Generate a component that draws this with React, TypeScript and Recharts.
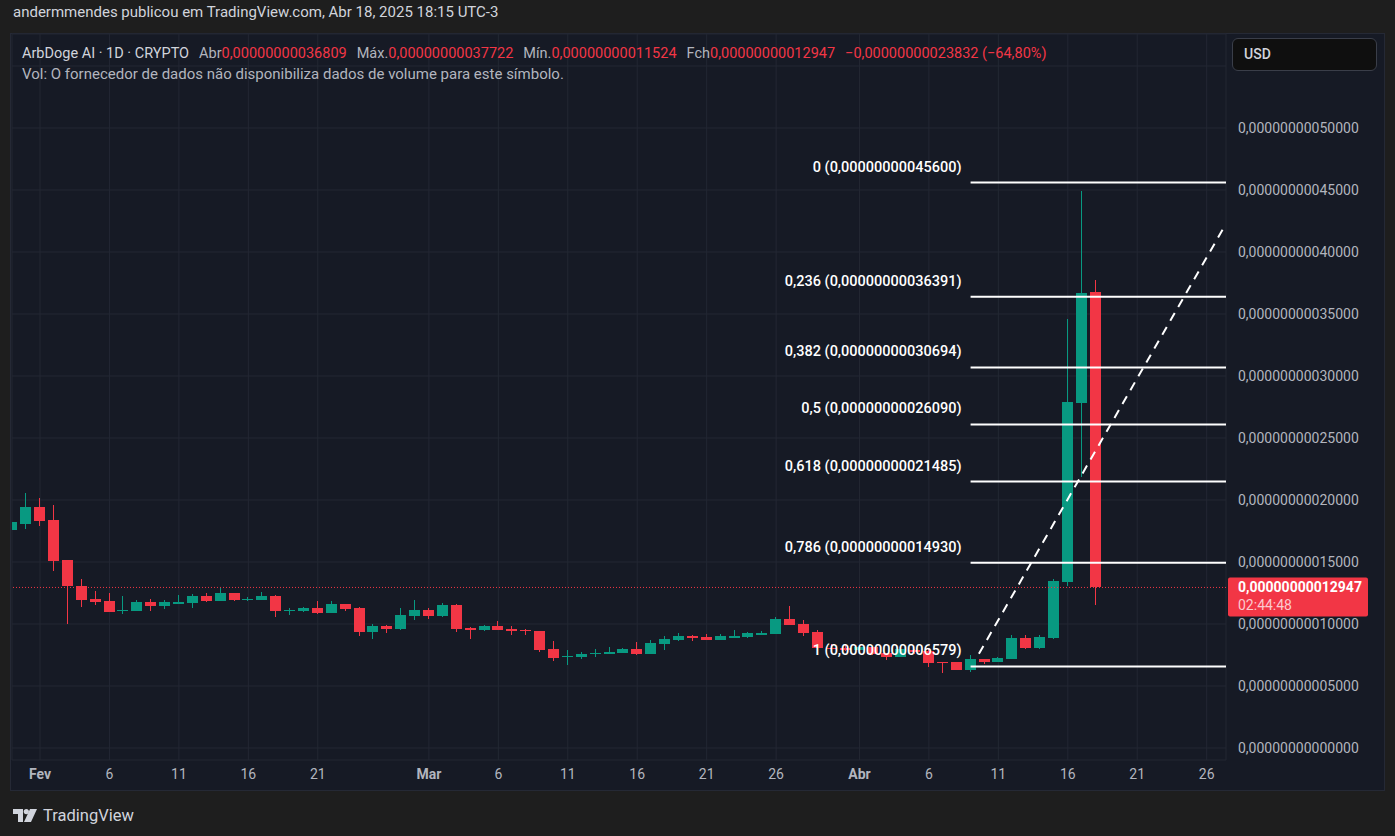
import React from 'react';
import { ComposedChart, Bar, XAxis, YAxis, CartesianGrid, ReferenceLine } from 'recharts';

// prices are in units of 1e-11 USD, days counted from Feb 1 (day 0)
const DAYS = [
  -2, -1, 0, 1, 2, 3, 4, 5, 6, 7, 8, 9, 10, 11, 12, 13, 14, 15, 16, 17, 18, 19,
  20, 21, 22, 23, 24, 25, 26, 27, 28, 29, 30, 31, 32, 33, 34, 35, 36, 37, 38, 39,
  40, 41, 42, 43, 44, 45, 46, 47, 48, 49, 50, 51, 52, 53, 54, 55, 56, 57, 58, 59,
  60, 61, 62, 63, 64, 65, 66, 67, 68, 69, 70, 71, 72, 73, 74, 75, 76,
];
const OPEN = [
  17.6, 18.1, 19.4, 18.4, 15.2, 13.1, 12.0, 11.85, 11.07, 11.07, 11.77, 11.45, 11.69, 11.69, 12.26, 11.85, 12.5, 11.96, 11.94, 12.26, 11.05, 11.07,
  11.29, 10.91, 11.61, 11.29, 9.38, 9.84, 9.6, 10.65, 11.13, 10.65, 11.53, 9.68, 9.52, 9.84, 9.6, 9.52, 9.44, 7.98, 7.4, 7.36,
  7.64, 7.6, 7.69, 7.98, 7.6, 8.41, 8.71, 9.03, 8.95, 8.71, 9.0, 8.95, 9.2, 9.22, 10.4, 10.0, 9.35, 8.09, 8.06, 7.9,
  8.17, 7.69, 7.36, 7.93, 7.8, 6.96, 6.96, 6.31, 7.2, 6.96, 7.2, 8.87, 8.09, 8.87, 13.39, 27.82, 36.809,
];
const HIGH = [
  18.3, 20.6, 20.2, 19.6, 15.2, 13.6, 12.7, 12.5, 12.26, 11.94, 12.0, 11.94, 12.34, 12.42, 12.5, 12.9, 12.5, 12.18, 12.58, 12.34, 11.29, 11.4,
  11.85, 11.85, 11.61, 11.37, 10.0, 9.92, 11.31, 11.94, 11.29, 11.69, 11.61, 9.76, 9.92, 10.24, 9.84, 9.6, 9.44, 8.63, 7.9, 7.74,
  7.98, 8.15, 8.06, 8.55, 8.71, 9.03, 9.27, 9.11, 9.19, 9.19, 9.52, 9.35, 9.44, 10.56, 11.45, 10.32, 9.52, 8.39, 8.3, 8.2,
  8.2, 7.69, 7.98, 8.0, 8.0, 6.96, 6.96, 7.5, 7.2, 7.3, 9.11, 9.11, 9.11, 13.63, 34.6, 44.9, 37.722,
];
const LOW = [
  17.5, 17.7, 17.9, 14.3, 10.0, 11.4, 11.5, 11.0, 10.8, 11.07, 11.07, 11.2, 11.69, 11.29, 11.77, 11.85, 11.85, 11.85, 11.94, 10.56, 10.73, 10.99,
  10.83, 10.91, 11.07, 9.06, 8.79, 9.27, 9.52, 10.32, 10.4, 10.56, 9.35, 8.79, 9.44, 9.52, 9.11, 9.11, 7.74, 7.02, 6.69, 7.18,
  7.34, 7.6, 7.69, 7.5, 7.6, 7.9, 8.63, 8.63, 8.71, 8.71, 8.87, 8.87, 9.11, 9.22, 9.95, 9.06, 8.0, 7.9, 7.8, 7.85,
  7.5, 7.12, 7.36, 7.6, 6.56, 6.07, 6.31, 6.15, 6.8, 6.96, 7.2, 8.0, 8.0, 8.79, 13.06, 21.85, 11.524,
];
const CLOSE = [
  18.2, 19.4, 18.3, 15.1, 13.1, 11.9, 11.8, 11.0, 11.15, 11.77, 11.45, 11.77, 11.77, 12.26, 11.85, 12.5, 11.94, 12.02, 12.26, 11.05, 11.13, 11.29,
  10.89, 11.61, 11.23, 9.38, 9.84, 9.6, 10.73, 11.13, 10.65, 11.53, 9.6, 9.52, 9.84, 9.52, 9.44, 9.44, 7.9, 7.26, 7.45, 7.58,
  7.68, 7.77, 7.98, 7.6, 8.47, 8.79, 9.03, 8.87, 8.71, 9.03, 9.03, 9.27, 9.27, 10.4, 9.95, 9.3, 8.09, 8.0, 7.98, 8.17,
  7.6, 7.36, 7.98, 7.72, 6.88, 6.88, 6.31, 7.18, 6.96, 7.26, 8.87, 8.09, 8.95, 13.47, 27.9, 36.69, 12.947,
];

const X_TICKS = [0, 5, 10, 15, 20, 28, 33, 38, 43, 48, 53, 59, 64, 69, 74, 79, 84];
const X_LABELS = ['Fev', '6', '11', '16', '21', 'Mar', '6', '11', '16', '21', '26', 'Abr', '6', '11', '16', '21', '26'];
const MONTHS = ['Fev', 'Mar', 'Abr'];
const Y_TICKS = [0, 5, 10, 15, 20, 25, 30, 35, 40, 45, 50, 55];

const FIB_RATIOS = ['0', '0,236', '0,382', '0,5', '0,618', '0,786', '1'];
const FIB_LEVELS = [45.6, 36.391, 30.694, 26.09, 21.485, 14.93, 6.579];
const FIB_START_DAY = 67;

const TREND_DAYS = [67.6, 85.3];
const TREND_VALUES = [7.6, 42.1];

const LAST_PRICE = 12.947;
const COUNTDOWN = '02:44:48';

const X_DOMAIN: [number, number] = [-2.016, 85.39];
const Y_DOMAIN: [number, number] = [-0.968, 57.58];

const GREEN = '#089981';
const RED = '#f23645';
const GRID = '#232733';
const TEXT = '#b2b5be';
const FONT = "Roboto, 'Noto Sans', sans-serif";

const fmt = (v: number) => (v / 1e11).toFixed(14).replace('.', ',');

const data = DAYS.map((d, i) => ({
  day: d,
  range: [LOW[i], HIGH[i]],
  o: OPEN[i],
  h: HIGH[i],
  l: LOW[i],
  c: CLOSE[i],
}));

const Candle = (props: any) => {
  const { x, y, width, height, payload } = props;
  if (x == null || !payload) return null;
  const { o, h, l, c } = payload;
  const top = Math.min(y, y + height);
  const span = Math.abs(height);
  const py = (v: number) => (h === l ? top : top + ((h - v) / (h - l)) * span);
  const color = c >= o ? GREEN : RED;
  const bTop = py(Math.max(o, c));
  const bBot = py(Math.min(o, c));
  const left = Math.round(x);
  const cx = left + 5.5;
  return (
    <g shapeRendering="crispEdges">
      <line x1={cx} x2={cx} y1={top} y2={top + span} stroke={color} strokeWidth={1} />
      <rect x={left} y={bTop} width={11} height={Math.max(1.5, bBot - bTop)} fill={color} />
    </g>
  );
};

const XTick = (props: any) => {
  const { x, y, payload } = props;
  const idx = X_TICKS.indexOf(payload.value);
  const label = X_LABELS[idx] ?? '';
  return (
    <text x={x} y={y + 19} textAnchor="middle" fill={TEXT} fontSize={14} fontFamily={FONT}
      fontWeight={MONTHS.includes(label) ? 700 : 400}>
      {label}
    </text>
  );
};

const YTick = (props: any) => {
  const { x, y, payload } = props;
  if (payload.value > 50) return null;
  return (
    <text x={x} y={y + 5} textAnchor="start" fill={TEXT} fontSize={14} fontFamily={FONT}>
      {fmt(payload.value)}
    </text>
  );
};

const FibLabel = (props: any) => {
  const { viewBox, caption } = props;
  if (!viewBox) return null;
  return (
    <text x={viewBox.x - 9} y={viewBox.y - 11} textAnchor="end" fill="#ffffff" fontSize={14.5}
      fontWeight={500} fontFamily={FONT}>
      {caption}
    </text>
  );
};

const PriceTag = (props: any) => {
  const { viewBox } = props;
  if (!viewBox) return null;
  const bx = viewBox.x + viewBox.width + 2;
  const by = viewBox.y - 10;
  return (
    <g>
      <rect x={bx} y={by} width={140} height={39} rx={2} fill={RED} />
      <text x={bx + 10} y={by + 15} fill="#ffffff" fontSize={14} fontWeight={700} fontFamily={FONT}>
        {fmt(LAST_PRICE)}
      </text>
      <text x={bx + 10} y={by + 33} fill="#fcc9ce" fontSize={14} fontFamily={FONT}>
        {COUNTDOWN}
      </text>
    </g>
  );
};

const Logo = () => (
  <svg width={24} height={14} viewBox="0 0 24 14" style={{ display: 'block' }}>
    <path d="M0 0 H10 V13 H5 V5 H0 Z" fill="#d1d4dc" />
    <circle cx={13.3} cy={2.6} r={2.6} fill="#d1d4dc" />
    <path d="M17 0 H24 L18 13 H11 Z" fill="#d1d4dc" />
  </svg>
);

export default function App() {
  return (
    <div style={{ position: 'absolute', left: 0, top: 0, width: 1395, height: 836, background: '#1e1e1e', fontFamily: FONT, overflow: 'hidden' }}>
      <div style={{ position: 'absolute', left: 13, top: 3, fontSize: 15, color: '#d1d4dc', whiteSpace: 'nowrap' }}>
        andermmendes publicou em TradingView.com, Abr 18, 2025 18:15 UTC-3
      </div>
      <div style={{ position: 'absolute', left: 10, top: 33, width: 1373, height: 756, background: '#161a25', border: '1px solid #252935' }} />
      <div style={{ position: 'absolute', left: 0, top: 0 }}>
        <ComposedChart width={1395} height={836} data={data} margin={{ top: 34, right: 10, bottom: 46, left: 12 }}>
          <CartesianGrid stroke={GRID} strokeWidth={1} />
          <XAxis
            dataKey="day"
            type="number"
            domain={X_DOMAIN}
            allowDataOverflow
            ticks={X_TICKS}
            interval={0}
            height={30}
            axisLine={false}
            tickLine={false}
            tickSize={0}
            tickMargin={0}
            tick={<XTick />}
          />
          <YAxis
            orientation="right"
            type="number"
            domain={Y_DOMAIN}
            allowDataOverflow
            ticks={Y_TICKS}
            interval={0}
            width={159}
            axisLine={false}
            tickLine={false}
            tickSize={0}
            tickMargin={12}
            tick={<YTick />}
          />
          <ReferenceLine y={LAST_PRICE} stroke={RED} strokeDasharray="1 2" strokeWidth={1} label={<PriceTag />} />
          {FIB_LEVELS.map((lv, i) => (
            <ReferenceLine
              key={`fib-${i}`}
              segment={[{ x: FIB_START_DAY, y: lv }, { x: X_DOMAIN[1], y: lv }]}
              stroke="#ffffff"
              strokeWidth={2}
              ifOverflow="visible"
              label={<FibLabel caption={`${FIB_RATIOS[i]} (${fmt(lv)})`} />}
            />
          ))}
          <Bar dataKey="range" barSize={11} shape={<Candle />} isAnimationActive={false} />
          <ReferenceLine
            segment={[{ x: TREND_DAYS[0], y: TREND_VALUES[0] }, { x: TREND_DAYS[1], y: TREND_VALUES[1] }]}
            stroke="#ffffff"
            strokeWidth={2}
            strokeDasharray="9 7"
            ifOverflow="visible"
          />
        </ComposedChart>
      </div>
      <div style={{ position: 'absolute', left: 22, top: 45, fontSize: 14.5, whiteSpace: 'nowrap', color: TEXT }}>
        <span style={{ color: '#d1d4dc' }}>ArbDoge AI · 1D · CRYPTO</span>
        <span style={{ marginLeft: 10 }}>Abr</span><span style={{ color: RED }}>{fmt(OPEN[OPEN.length - 1])}</span>
        <span style={{ marginLeft: 10 }}>Máx.</span><span style={{ color: RED }}>{fmt(HIGH[HIGH.length - 1])}</span>
        <span style={{ marginLeft: 10 }}>Mín.</span><span style={{ color: RED }}>{fmt(LOW[LOW.length - 1])}</span>
        <span style={{ marginLeft: 10 }}>Fch</span><span style={{ color: RED }}>{fmt(LAST_PRICE)}</span>
        <span style={{ marginLeft: 10, color: RED }}>−0,00000000023832 (−64,80%)</span>
      </div>
      <div style={{ position: 'absolute', left: 22, top: 65, fontSize: 15, whiteSpace: 'nowrap', color: TEXT }}>
        Vol: O fornecedor de dados não disponibiliza dados de volume para este símbolo.
      </div>
      <div style={{ position: 'absolute', left: 1232, top: 38, width: 132, height: 31, background: '#0f0f0f', border: '1px solid #3a3e49', borderRadius: 6, color: '#d1d4dc', fontSize: 14, fontWeight: 500, lineHeight: '31px', paddingLeft: 11 }}>
        USD
      </div>
      <div style={{ position: 'absolute', left: 13, top: 807, display: 'flex', alignItems: 'center', gap: 6 }}>
        <Logo />
        <span style={{ color: '#d1d4dc', fontSize: 16.5, lineHeight: '17px' }}>TradingView</span>
      </div>
    </div>
  );
}
